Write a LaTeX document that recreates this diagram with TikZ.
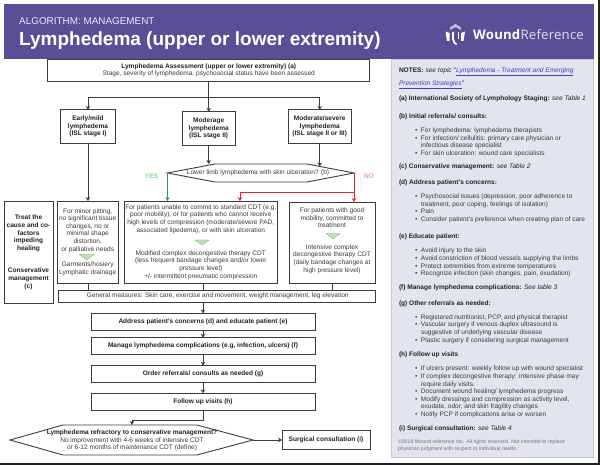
\documentclass[tikz,border=0pt]{standalone}
\usepackage{fontspec}
\setmainfont{Liberation Sans}
\newfontfamily\logofont[LetterSpace=1.5]{Open Sans}
\usetikzlibrary{arrows.meta}
\definecolor{wrpurple}{HTML}{5A4E96}
\definecolor{wrpanel}{HTML}{E3E5EE}
\definecolor{wrtext}{HTML}{3A3A3A}
\definecolor{wrdark}{HTML}{222222}
\definecolor{wrline}{HTML}{3C3C3C}
\definecolor{wrgreen}{HTML}{1E9E5A}
\definecolor{wrgreenlt}{HTML}{BFE3B4}
\definecolor{wryes}{HTML}{7ED98F}
\definecolor{wrred}{HTML}{E8222E}
\definecolor{wrno}{HTML}{F06A6A}
\definecolor{wrlink}{HTML}{3F3FC0}
\newcommand{\sz}{\fontsize{6.55}{7.6}\selectfont}
\newcommand{\bul}[1]{\makebox[6pt][l]{•}#1}
\newcommand{\cont}[1]{\hspace*{6pt}#1}
\newcommand{\lnk}[1]{\textcolor{wrlink}{\underline{\textit{#1}}}}
\tikzset{
  x=1pt,y=-1pt,
  box/.style={draw=wrline,line width=0.9pt,fill=white,inner sep=0pt,outer sep=0pt,align=center,text=wrtext,font=\sz},
  boldbox/.style={box,text=wrdark,font=\sz\bfseries},
  flow/.style={draw=wrline,line width=0.9pt,-{Stealth[length=4pt,width=4.5pt]}},
  plain/.style={draw=wrline,line width=0.9pt},
  yesflow/.style={draw=wrgreen,line width=0.9pt,-{Stealth[length=4pt,width=4.5pt]}},
  noflow/.style={draw=wrred,line width=0.9pt,-{Stealth[length=4pt,width=4.5pt]}},
  noflowplain/.style={draw=wrred,line width=0.9pt},
  gtri/.style={fill=wrgreenlt,draw=wrgreenlt!70!black,line width=0.3pt},
  note/.style={anchor=north west,inner sep=0pt,outer sep=0pt,align=left,text=wrtext,font=\sz,yshift=-0.8pt},
  notehead/.style={note,text=wrdark},
  hex/.style={draw=wrline,line width=0.9pt,fill=white,line join=miter},
}
\begin{document}
\begin{tikzpicture}
\useasboundingbox (0,0) rectangle (600,465);
\fill[white] (0,0) rectangle (600,465);
\fill[wrdark] (597.5,0) rectangle (600,465);
\fill[wrdark] (0,463) rectangle (600,465);
% panel and banner
\filldraw[fill=wrpanel,draw=wrpanel!88!black,line width=0.5pt] (391,59) rectangle (593.5,457);
\fill[wrpurple] (3.7,4.3) rectangle (594,59.3);

\node[anchor=base west,inner sep=0pt,text=white!88!wrpurple,font=\fontsize{9.9}{11}\selectfont] (alg) at (19,24.5) {ALGORITHM: MANAGEMENT};
\node[anchor=base west,inner sep=0pt,text=white,font=\fontsize{19}{22}\selectfont\bfseries] (title) at (19,45.5) {Lymphedema (upper or lower extremity)};

% logo
\fill[white!65!wrpurple] (450,30) -- (450,27.5) -- (455.5,24) -- (461,27.5) -- (461,30) -- (455.5,27) -- cycle;
\fill[white] (445.5,31.5) -- (449.5,33) -- (449.5,41) -- (447,41) -- cycle;
\fill[white] (465,31.5) -- (461,33) -- (461,41) -- (463.5,41) -- cycle;
\draw[white,line width=1.7pt] (453,32) -- (453,39) .. controls (453,42) and (455,43) .. (456.5,44.5);
\draw[white,line width=1.7pt] (458.5,32) -- (458.5,39);
\node[anchor=base west,inner sep=0pt,text=white,font=\logofont\fontsize{13.2}{15}\selectfont] (logo) at (473,39.8) {\textbf{Wound}\textcolor{white!82!wrpurple}{Reference}};

% flow boxes
\node[box,minimum width=322,minimum height=22] (assess) at (208.7,70) {};
\node[inner sep=0pt,align=center,text=wrtext,font=\sz] (assesstxt) at (208.7,70.5) {\textcolor{wrdark}{\textbf{Lymphedema Assessment (upper or lower extremity) (a)}}\\Stage, severity of lymphedema, psychosocial status have been assessed};

\node[boldbox,minimum width=55,minimum height=33.5] (early) at (88,126.7) {Early/mild\\lymphedema\\(ISL stage I)};
\node[boldbox,minimum width=53.5,minimum height=33.5] (moder) at (208.7,128.7) {Moderage\\lymphedema\\(ISL stage II)};
\node[boldbox,minimum width=63.5,minimum height=33.5] (severe) at (319.7,126.7) {Moderate/severe\\lymphedema\\(ISL stage II or III)};

% ulceration hexagon
\coordinate (ulcerW) at (167.5,173);
\coordinate (ulcerE) at (354,173);
\coordinate (ulcerNL) at (215,164);
\coordinate (ulcerNR) at (307,164);
\coordinate (ulcerSL) at (215,182);
\coordinate (ulcerSR) at (307,182);
\draw[hex] (ulcerW) -- (ulcerNL) -- (ulcerNR) -- (ulcerE) -- (ulcerSR) -- (ulcerSL) -- cycle;
\node[inner sep=0pt,text=wrtext,font=\sz] (ulcertxt) at (258,173) {Lower limb lymphedema with skin ulceration? (b)};

\node[boldbox,minimum width=49,minimum height=102] (treat) at (28.5,252.3) {Treat the\\cause and co-\\factors\\impeding\\healing\\[15pt]Conservative\\management\\(c)};
\node[box,minimum width=61.5,minimum height=82] (carea) at (87.7,242) {For minor pitting,\\no significant tissue\\changes, no or\\minimal shape\\distortion,\\or palliative needs\\[8pt]Garments/hosiery\\Lymphatic drainage};
\node[box,minimum width=153.5,minimum height=82] (careb) at (200.8,242) {For patients unable to commit to standard CDT (e.g.\\poor mobility), or for patients who cannot receive\\high levels of compression (moderate/severe PAD,\\associated lipedema), or with skin ulceration\\[15.5pt]Modified complex decongestive therapy CDT\\(less frequent bandage changes and/or lower\\pressure level)\\+/- intermittent pneumatic compression};
\node[box,minimum width=86,minimum height=81,text depth=5pt] (carec) at (332,242.5) {For patients with good\\mobility, committed to\\treatment\\[14pt]Intensive complex\\decongestive therapy CDT\\(daily bandage changes at\\high pressure level)};

\fill[gtri] (79.5,254.3) -- (94,254.3) -- (86.8,260) -- cycle;
\fill[gtri] (195,240) -- (209,240) -- (202,245) -- cycle;
\fill[gtri] (326,233.5) -- (340,233.5) -- (333,239) -- cycle;

\node[box,minimum width=316.5,minimum height=12] (general) at (216.8,296) {\hspace*{2pt}General measures: Skin care, exercise and movement, weight management, leg elevation};
\node[boldbox,minimum width=224,minimum height=16.7] (address) at (203,321.8) {Address patient's concerns (d) and educate patient (e)};
\node[boldbox,minimum width=224,minimum height=16.7] (manage) at (203,346) {Manage lymphedema complications (e.g, infection, ulcers) (f)};
\node[boldbox,minimum width=224,minimum height=16.7] (order) at (203,374) {Order referrals/ consults as needed (g)};
\node[boldbox,minimum width=224,minimum height=16.7] (follow) at (203,401.7) {Follow up visits  (h)};

% refractory hexagon
\coordinate (refW) at (10,440);
\coordinate (refE) at (253,440);
\coordinate (refNL) at (63,425);
\coordinate (refNR) at (197,425);
\coordinate (refSL) at (63,455);
\coordinate (refSR) at (197,455);
\coordinate (refTop) at (132,425);
\draw[hex] (refW) -- (refNL) -- (refNR) -- (refE) -- (refSR) -- (refSL) -- cycle;
\node[inner sep=0pt,align=center,text=wrtext,font=\sz] (refracttxt) at (132,440.5) {\textcolor{wrdark}{\textbf{Lymphedema refractory to conservative management?}}\\No improvement with 4-6 weeks of intensive CDT\\or 6-12 months of maintenance CDT (define)};
\node[boldbox,minimum width=88,minimum height=18.5] (surg) at (326,440) {Surgical consultation (i)};

% connectors
\coordinate (bus) at (208.7,97);
\draw[plain] (assess.south -| bus) -- (bus);
\draw[flow] (bus) -| (early.north);
\draw[flow] (bus) -- (moder.north);
\draw[flow] (bus) -| (severe.north);
\draw[flow] (moder.south) -- (moder.south |- ulcerNL);
\draw[flow] (severe.south) -- (severe.south |- 0,166.5);
\draw[flow] (early.south) -- (early.south |- carea.north);
\draw[yesflow] (ulcerW) -- (ulcerW |- careb.north);
\draw[noflow] (ulcerE) -- (ulcerE |- carec.north);
\coordinate (nobend) at (ulcerE |- 0,192.5);
\coordinate (midred) at (240,192.5);
\draw[noflowplain] (nobend) -- (midred);
\draw[noflow] (midred) -- (midred |- careb.north);
\draw[plain] (88,283) -- (88,290);
\draw[plain] (203,283) -- (203,290);
\draw[plain] (332,283) -- (332,290);
\draw[flow] (general.south -| address.north) -- (address.north);
\draw[flow] (address) -- (manage);
\draw[flow] (manage) -- (order);
\draw[flow] (order) -- (follow);
\coordinate (fbend) at (follow.south |- 0,420.5);
\draw[flow] (follow.south) -- (fbend) -| (refTop);
\draw[flow] (refE) -- (surg.west);

\node[inner sep=0pt,text=wryes,font=\fontsize{6.5}{8}\selectfont\bfseries] (yes) at (151.5,176.5) {YES};
\node[inner sep=0pt,text=wrno,font=\fontsize{6.5}{8}\selectfont] (no) at (369,176.5) {NO};

% notes
\node[notehead] (n0) at (399,67) {\textbf{NOTES:} \textit{see topic ``}\lnk{Lymphedema - Treatment and Emerging}};
\node[notehead] (n0b) at (399,79.7) {\lnk{Prevention Strategies}\textit{''}};
\node[notehead] (na) at (399,95.3) {\textbf{(a) International Society of Lymphology Staging:} \textit{see Table 1}};
\node[notehead] (nb) at (399,112.7) {\textbf{(b) Initial referrals/ consults:}};
\node[note] (nbl) at (415,127) {\bul{For lymphedema: lymphedema therapists}\\\bul{For infection/ cellulitis: primary care physician or}\\\cont{infectious disease specialist}\\\bul{For skin ulceration: wound care specialists}};
\node[notehead] (nc) at (399,163) {\textbf{(c) Conservative management:} \textit{see Table 2}};
\node[notehead] (nd) at (399,178.7) {\textbf{(d) Address patient's concerns:}};
\node[note] (ndl) at (415,193) {\bul{Psychosocial issues (depression, poor adherence to}\\\cont{treatment, poor coping, feelings of isolation)}\\\bul{Pain}\\\bul{Consider patient's preference when creating plan of care}};
\node[notehead] (ne) at (399,233.3) {\textbf{(e) Educate patient:}};
\node[note] (nel) at (415,247.3) {\bul{Avoid injury to the skin}\\\bul{Avoid constriction of blood vessels supplying the limbs}\\\bul{Protect extremities from extreme temperatures}\\\bul{Recognize infection (skin changes, pain, exudation)}};
\node[notehead] (nf) at (399,284) {\textbf{(f) Manage lymphedema complications:} \textit{See table 3}};
\node[notehead] (ng) at (399,299.7) {\textbf{(g) Other referrals as needed:}};
\node[note] (ngl) at (415,313.7) {\bul{Registered nutritionist, PCP, and physical therapist}\\\bul{Vascular surgery if venous duplex ultrasound is}\\\cont{suggestive of underlying vascular disease}\\\bul{Plastic surgery if considering surgical management}};
\node[notehead] (nh) at (399,350.7) {\textbf{(h) Follow up visits}};
\node[note] (nhl) at (415,365.3) {\bul{If ulcers present: weekly follow up with wound specialist}\\\bul{If complex decongestive therapy: intensive phase may}\\\cont{require daily visits.}\\\bul{Document wound healing/ lymphedema progress}\\\bul{Modify dressings and compression as activity level,}\\\cont{exudate, odor, and skin fragility changes}\\\bul{Notify PCP if complications arise or worsen}};
\node[notehead] (ni) at (399,424.7) {\textbf{(i) Surgical consultation:} \textit{see Table 4}};
\node[note,text=wrtext!70!white,font=\fontsize{5.2}{7}\selectfont] (ncopy) at (398,439) {©2019 Wound reference Inc. All rights reserved. Not intended to replace\\physician judgment with respect to individual needs};
\end{tikzpicture}
\end{document}
